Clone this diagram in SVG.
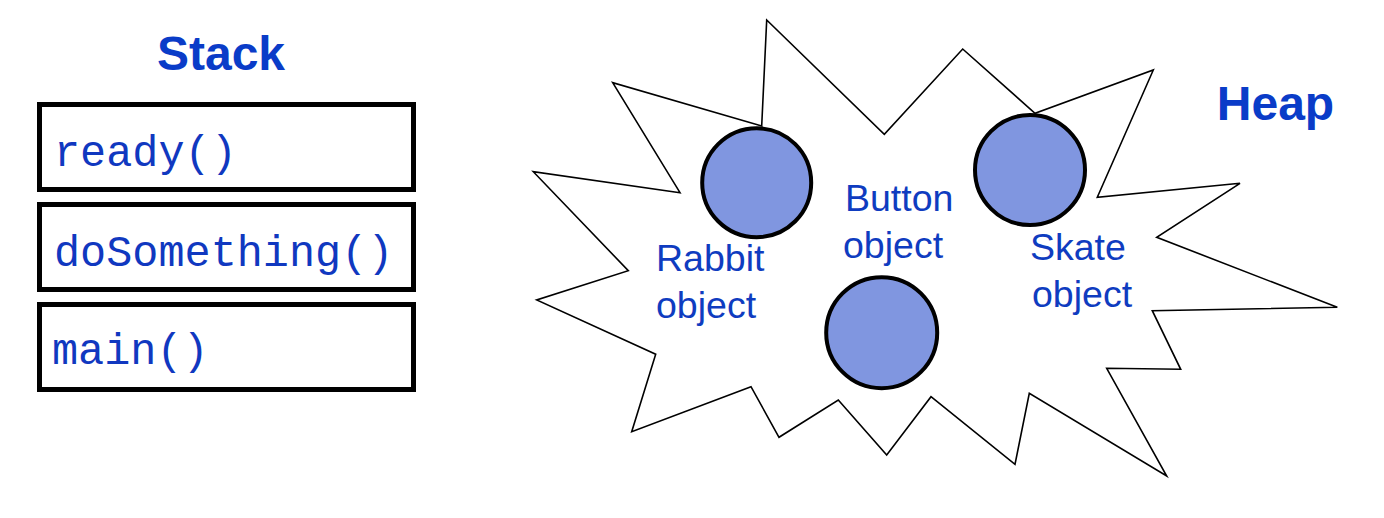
<svg xmlns="http://www.w3.org/2000/svg" width="1384" height="518" viewBox="0 0 1384 518">
<style>
.frame{fill:#fff;stroke:#000;stroke-width:5}
.code{font-family:"Liberation Mono","Courier New",monospace;font-size:43.5px;fill:#1038c0}
.title{font-family:"Liberation Sans",Arial,sans-serif;font-weight:bold;font-size:48px;fill:#0a3cc8}
.lbl{font-family:"Liberation Sans",Arial,sans-serif;font-size:37.5px;fill:#0f3cc0}
.obj{fill:#8096e0;stroke:#000;stroke-width:4}
.burst{fill:#fff;stroke:#000;stroke-width:1.6;stroke-linejoin:miter}
</style>
<rect width="1384" height="518" fill="#fff"/>
<g id="stack">
<text class="title" x="221" y="70" text-anchor="middle">Stack</text>
<g id="frame-ready"><rect class="frame" x="39.5" y="104.5" width="374" height="85"/><text class="code" x="54" y="166">ready()</text></g>
<g id="frame-doSomething"><rect class="frame" x="39.5" y="204.5" width="374" height="85"/><text class="code" x="54" y="266">doSomething()</text></g>
<g id="frame-main"><rect class="frame" x="39.5" y="304.5" width="374" height="85"/><text class="code" x="52" y="364">main()</text></g>
</g>
<g id="heap">
<polygon class="burst" points="766.7,20 884.3,134.3 962.7,49 1035,113.3 1153.3,70 1097.3,197.3 1240,183.3 1156.7,237.3 1337.3,307.3 1152.3,310.7 1180.7,369.3 1106.7,368.3 1166.7,476 1029.3,393.3 1015,464.3 931,396.7 886.7,455 838.3,400 779,437.3 751,386.7 631.7,431.7 655.7,354.3 536.7,300 628.3,270.7 533.3,171.7 680,192.7 612.7,82.7 761.7,126"/>
<text class="title" x="1275.5" y="120" text-anchor="middle">Heap</text>
</g>
<g id="connectors"></g>
<g id="rabbit">
<circle class="obj" cx="756.7" cy="182.7" r="54.5"/>
<text class="lbl" x="656" y="271">Rabbit</text>
<text class="lbl" x="656" y="318">object</text>
</g>
<g id="button">
<circle class="obj" cx="881.7" cy="332.7" r="55.5"/>
<text class="lbl" x="845" y="211">Button</text>
<text class="lbl" x="843" y="258">object</text>
</g>
<g id="skate">
<circle class="obj" cx="1030" cy="170" r="55"/>
<text class="lbl" x="1030" y="260">Skate</text>
<text class="lbl" x="1032" y="307">object</text>
</g>
</svg>
